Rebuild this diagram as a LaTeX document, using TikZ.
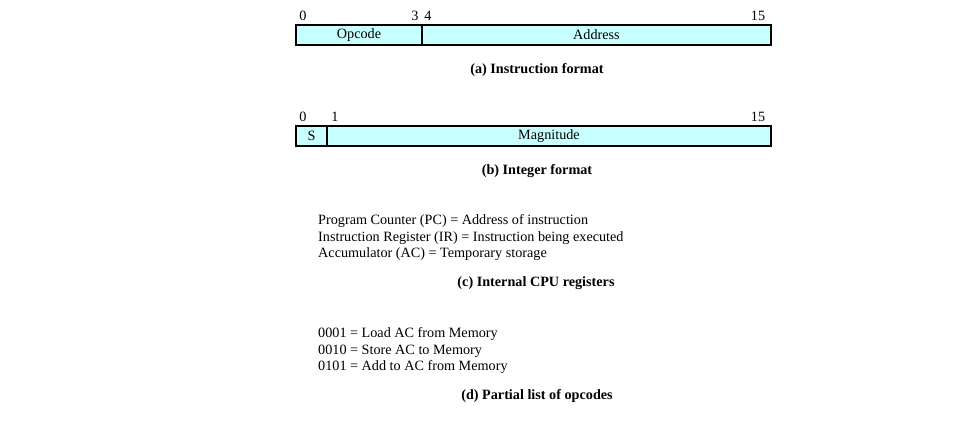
\documentclass[tikz,border=0pt]{standalone}
\usepackage{fontspec}
\setmainfont{Liberation Serif}
\definecolor{fieldfill}{HTML}{C8FFFF}
\begin{document}
\begin{tikzpicture}[x=1pt,y=-1pt,
  field/.style={draw=black,line width=1.3pt,fill=fieldfill,inner sep=0pt,minimum height=20pt,font=\fontsize{14.2}{16}\selectfont},
  txt/.style={inner sep=0pt,font=\fontsize{14.2}{16}\selectfont},
  captxt/.style={inner sep=0pt,font=\fontsize{14.2}{16}\selectfont\bfseries},
  lines/.style={inner sep=0pt,align=left,anchor=north west,font=\fontsize{14.2}{16.5}\selectfont}]
\useasboundingbox (0,0) rectangle (953,423);
% (a) instruction format
\node[field,minimum width=126pt] (opc) at (359,35) {Opcode};
\node[field,minimum width=349pt] (addr) at (596.5,35) {Address};
\node[txt] (a0) at (303,16) {0};
\node[txt] (a3) at (415,16) {3};
\node[txt] (a4) at (428,16) {4};
\node[txt] (a15) at (758,16) {15};
\node[captxt] (capa) at (537,70) {(a) Instruction format};
% (b) integer format
\node[field,minimum width=31pt] (sgn) at (311.5,136) {S};
\node[field,minimum width=444pt] (mag) at (549,136) {Magnitude};
\node[txt] (b0) at (303,117) {0};
\node[txt] (b1) at (335,117) {1};
\node[txt] (b15) at (758,117) {15};
\node[captxt] (capb) at (537,171) {(b) Integer format};
% (c) registers
\node[lines] (regs) at (318,214.5) {Program Counter (PC) = Address of instruction\\Instruction Register (IR) = Instruction being executed\\Accumulator (AC) = Temporary storage};
\node[captxt] (capc) at (536,283) {(c) Internal CPU registers};
% (d) opcodes
\node[lines] (ops) at (318,327.5) {0001 = Load AC from Memory\\0010 = Store AC to Memory\\0101 = Add to AC from Memory};
\node[captxt] (capd) at (537,396) {(d) Partial list of opcodes};
\end{tikzpicture}
\end{document}
